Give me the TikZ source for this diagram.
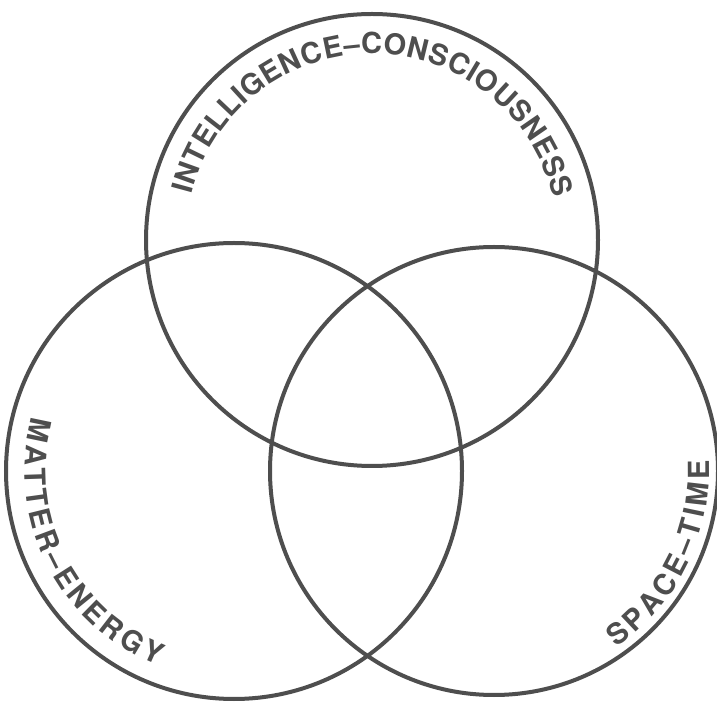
\documentclass[tikz,border=0pt]{standalone}
\usepackage{fontspec}
\setmainfont{Liberation Sans}
\newfontfamily\labfont{TeX Gyre Heros}
\usetikzlibrary{decorations.text}
\definecolor{ink}{RGB}{78,78,78}
\begin{document}
\begin{tikzpicture}[x=1pt,y=1pt,
  ring/.style={circle, draw=ink, line width=4pt, inner sep=0pt},
  lab/.style={decorate, decoration={text along path, text align=fit to path,
     text={|\color{ink}\labfont\bfseries\fontsize{29pt}{32pt}\selectfont|#1}}}]
\useasboundingbox (0,0) rectangle (717,704);
\fill[white] (0,0) rectangle (717,704);
\node[ring, minimum size=452pt] (ci) at (372,464) {};
\node[ring, minimum size=456pt] (me) at (234,233) {};
\node[ring, minimum size=448pt] (st) at (494,233) {};
\path[lab={INTELLIGENCE{–}CONSCIOUSNESS}]
  ([shift={(166:186)}]ci.center) arc[start angle=166, end angle=13, radius=186];
\path[lab={MATTER{–}ENERGY}]
  ([shift={(165:209)}]me.center) arc[start angle=165, end angle=248.6, radius=209];
\path[lab={SPACE{–}TIME}]
  ([shift={(-55.3:215)}]st.center) arc[start angle=-55.3, end angle=2.8, radius=215];
\end{tikzpicture}
\end{document}
